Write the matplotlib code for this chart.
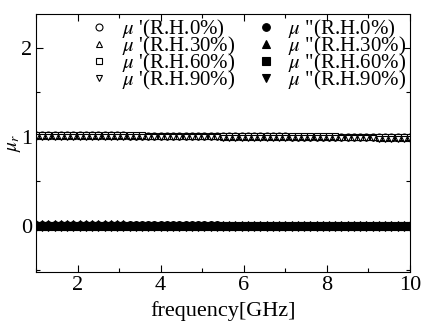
import numpy as np
import matplotlib
matplotlib.use("Agg")
import matplotlib.pyplot as plt
from matplotlib.ticker import MultipleLocator

plt.rcParams['font.family'] = ['Liberation Serif', 'DejaVu Serif']
plt.rcParams['mathtext.fontset'] = 'stix'

# frequency grid [GHz]
freq = [1.00, 1.15, 1.30, 1.45, 1.60, 1.75, 1.90, 2.05, 2.20, 2.35, 2.50, 2.65,
        2.80, 2.95, 3.10, 3.25, 3.40, 3.55, 3.70, 3.85, 4.00, 4.15, 4.30, 4.45,
        4.60, 4.75, 4.90, 5.05, 5.20, 5.35, 5.50, 5.65, 5.80, 5.95, 6.10, 6.25,
        6.40, 6.55, 6.70, 6.85, 7.00, 7.15, 7.30, 7.45, 7.60, 7.75, 7.90, 8.05,
        8.20, 8.35, 8.50, 8.65, 8.80, 8.95, 9.10, 9.25, 9.40, 9.55, 9.70, 9.85, 10.00]

mu_re_0 = [1.02, 1.02, 1.02, 1.02, 1.02, 1.02, 1.02, 1.02, 1.02, 1.02, 1.02, 1.02,
           1.02, 1.02, 1.02, 1.01, 1.01, 1.01, 1.01, 1.01, 1.01, 1.01, 1.01, 1.01,
           1.01, 1.01, 1.01, 1.01, 1.01, 1.01, 1.01, 1.01, 1.01, 1.01, 1.01, 1.01,
           1.01, 1.01, 1.01, 1.01, 1.01, 1.00, 1.00, 1.00, 1.00, 1.00, 1.00, 1.00,
           1.00, 1.00, 1.00, 1.00, 1.00, 1.00, 1.00, 1.00, 1.00, 1.00, 1.00, 1.00, 1.00]
mu_re_30 = [1.01, 1.01, 1.01, 1.01, 1.01, 1.01, 1.01, 1.01, 1.01, 1.01, 1.01, 1.01,
            1.01, 1.01, 1.01, 1.01, 1.01, 1.01, 1.01, 1.01, 1.01, 1.01, 1.01, 1.01,
            1.01, 1.01, 1.01, 1.01, 1.01, 1.01, 1.00, 1.00, 1.00, 1.00, 1.00, 1.00,
            1.00, 1.00, 1.00, 1.00, 1.00, 1.00, 1.00, 1.00, 1.00, 1.00, 1.00, 1.00,
            1.00, 1.00, 1.00, 1.00, 1.00, 1.00, 1.00, 0.99, 0.99, 0.99, 0.99, 0.99, 0.99]
mu_re_60 = [1.02, 1.02, 1.02, 1.02, 1.02, 1.02, 1.02, 1.02, 1.02, 1.02, 1.02, 1.02,
            1.02, 1.02, 1.02, 1.02, 1.02, 1.02, 1.01, 1.01, 1.01, 1.01, 1.01, 1.01,
            1.01, 1.01, 1.01, 1.01, 1.01, 1.01, 1.01, 1.01, 1.01, 1.01, 1.01, 1.01,
            1.01, 1.01, 1.01, 1.01, 1.01, 1.01, 1.01, 1.01, 1.01, 1.01, 1.01, 1.01,
            1.01, 1.00, 1.00, 1.00, 1.00, 1.00, 1.00, 1.00, 1.00, 1.00, 1.00, 1.00, 1.00]
mu_re_90 = [1.00, 1.00, 1.00, 1.00, 1.00, 1.00, 1.00, 1.00, 1.00, 1.00, 1.00, 1.00,
            1.00, 1.00, 1.00, 1.00, 1.00, 1.00, 1.00, 1.00, 1.00, 1.00, 1.00, 1.00,
            1.00, 1.00, 1.00, 1.00, 1.00, 1.00, 0.99, 0.99, 0.99, 0.99, 0.99, 0.99,
            0.99, 0.99, 0.99, 0.99, 0.99, 0.99, 0.99, 0.99, 0.99, 0.99, 0.99, 0.99,
            0.99, 0.99, 0.99, 0.99, 0.99, 0.99, 0.99, 0.98, 0.98, 0.98, 0.98, 0.98, 0.98]

mu_im_0 = [0.01, 0.01, 0.01, 0.01, 0.01, 0.01, 0.01, 0.01, 0.01, 0.01, 0.01, 0.01,
           0.01, 0.01, 0.01, 0.01, 0.01, 0.01, 0.01, 0.01, 0.01, 0.01, 0.01, 0.01,
           0.01, 0.01, 0.01, 0.01, 0.01, 0.01, 0.00, 0.00, 0.00, 0.00, 0.00, 0.00,
           0.00, 0.00, 0.00, 0.00, 0.00, 0.00, 0.00, 0.00, 0.00, 0.00, 0.00, 0.00,
           0.00, 0.00, 0.00, 0.00, 0.00, 0.00, 0.00, 0.00, 0.00, 0.00, 0.00, 0.00, 0.00]
mu_im_30 = [0.02, 0.02, 0.02, 0.02, 0.02, 0.02, 0.02, 0.02, 0.02, 0.02, 0.02, 0.02,
            0.02, 0.02, 0.02, 0.01, 0.01, 0.01, 0.01, 0.01, 0.01, 0.01, 0.01, 0.01,
            0.01, 0.01, 0.01, 0.01, 0.01, 0.01, 0.01, 0.01, 0.01, 0.01, 0.01, 0.01,
            0.01, 0.01, 0.01, 0.01, 0.01, 0.01, 0.01, 0.01, 0.01, 0.01, 0.01, 0.01,
            0.01, 0.01, 0.01, 0.01, 0.01, 0.01, 0.01, 0.01, 0.01, 0.01, 0.01, 0.01, 0.01]
mu_im_60 = [0.00, 0.00, 0.00, 0.00, 0.00, 0.00, 0.00, 0.00, 0.00, 0.00, 0.00, 0.00,
            0.00, 0.00, 0.00, 0.00, 0.00, 0.00, 0.00, 0.00, 0.00, 0.00, 0.00, 0.00,
            0.00, 0.00, 0.00, 0.00, 0.00, 0.00, 0.00, 0.00, 0.00, 0.00, 0.00, 0.00,
            0.00, 0.00, 0.00, 0.00, 0.00, 0.00, 0.00, 0.00, 0.00, 0.00, 0.00, 0.00,
            0.00, 0.00, 0.00, 0.00, 0.00, 0.00, 0.00, 0.00, 0.00, 0.00, 0.00, 0.00, 0.00]
mu_im_90 = [-0.01, -0.01, -0.01, -0.01, -0.01, -0.01, -0.01, -0.01, -0.01, -0.01, -0.01, -0.01,
            -0.01, -0.01, -0.01, -0.01, -0.01, -0.01, -0.01, -0.01, -0.01, -0.01, -0.01, -0.01,
            -0.01, -0.01, -0.01, -0.01, -0.01, -0.01, -0.01, -0.01, -0.01, -0.01, -0.01, -0.01,
            -0.01, -0.01, -0.01, -0.01, -0.01, -0.01, -0.01, -0.01, -0.01, -0.01, -0.01, -0.01,
            -0.01, -0.01, -0.01, -0.01, -0.01, -0.01, -0.01, -0.01, -0.01, -0.01, -0.01, -0.01, -0.01]

rh_labels = ["0%", "30%", "60%", "90%"]
markers = ["o", "^", "s", "v"]

fig = plt.figure(figsize=(4.22, 3.29), dpi=100)
ax = fig.add_axes([0.0853, 0.1733, 0.8863, 0.7841])

re_series = [mu_re_0, mu_re_30, mu_re_60, mu_re_90]
im_series = [mu_im_0, mu_im_30, mu_im_60, mu_im_90]

handles = []
for vals, m, lab in zip(re_series, markers, rh_labels):
    h, = ax.plot(freq, vals, linestyle='none', marker=m, markersize=5,
                 markerfacecolor='white', markeredgecolor='black', markeredgewidth=0.8,
                 label=r"$\mu$ '(R.H." + lab + ")")
    handles.append(h)
for vals, m, lab in zip(im_series, markers, rh_labels):
    h, = ax.plot(freq, vals, linestyle='none', marker=m, markersize=5.5,
                 markerfacecolor='black', markeredgecolor='black', markeredgewidth=0.8,
                 label=r'$\mu$ "(R.H.' + lab + ")")
    handles.append(h)

ax.set_xlim(1, 10)
ax.set_ylim(-0.52, 2.38)
ax.xaxis.set_major_locator(MultipleLocator(2))
ax.xaxis.set_minor_locator(MultipleLocator(1))
ax.yaxis.set_major_locator(MultipleLocator(1))
ax.yaxis.set_minor_locator(MultipleLocator(0.5))
ax.tick_params(which='both', direction='in', top=True, right=True, labelsize=16, width=0.8, pad=3)
ax.tick_params(which='major', length=5)
ax.tick_params(which='minor', length=3)
for s in ax.spines.values():
    s.set_linewidth(0.8)

ax.set_xlabel("frequency[GHz]", fontsize=16, labelpad=4)
ax.set_ylabel(r"$\mu_r$", fontsize=14, labelpad=-2)

leg = ax.legend(handles=handles, ncol=2, loc='upper left', bbox_to_anchor=(0.123, 1.016),
                frameon=False, fontsize=15, handlelength=0.8, handletextpad=0.7,
                columnspacing=1.07, labelspacing=-0.3, borderaxespad=0.0,
                markerscale=1.0)

fig.savefig("out.png", dpi=100)
